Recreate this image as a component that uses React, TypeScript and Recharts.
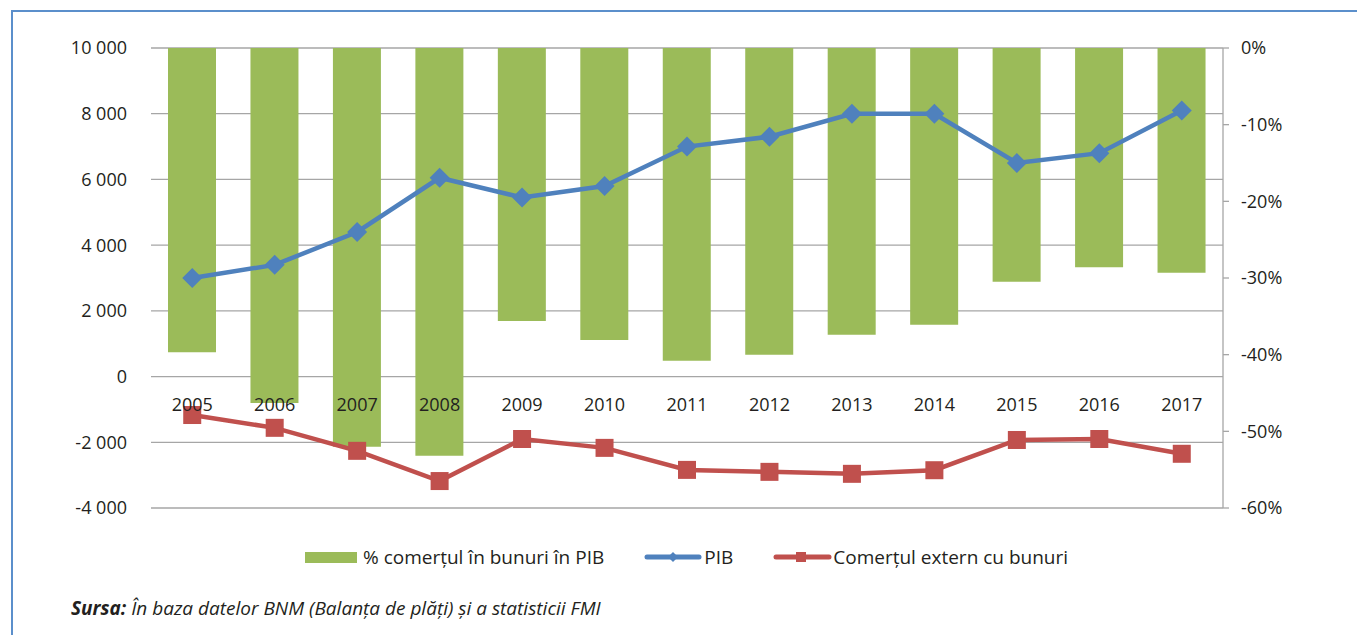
import {
  ComposedChart,
  Bar,
  Line,
  XAxis,
  YAxis,
  CartesianGrid,
} from "recharts";

const years = [
  "2005", "2006", "2007", "2008", "2009", "2010", "2011",
  "2012", "2013", "2014", "2015", "2016", "2017",
];
// % comertul in bunuri in PIB (right axis)
const tradeShare = [
  -39.7, -46.3, -52.0, -53.2, -35.6, -38.1, -40.8,
  -40.0, -37.4, -36.1, -30.5, -28.6, -29.3,
];
// PIB (left axis)
const pib = [
  3000, 3400, 4400, 6050, 5450, 5800, 7000, 7300, 8000, 8000, 6500, 6800, 8100,
];
// Comertul extern cu bunuri (left axis)
const tradeBalance = [
  -1170, -1560, -2260, -3180, -1900, -2170, -2840,
  -2900, -2960, -2850, -1930, -1900, -2350,
];
const leftTicks = [10000, 8000, 6000, 4000, 2000, 0, -2000, -4000];
const rightTicks = [0, -10, -20, -30, -40, -50, -60];

const GREEN = "#9BBB59";
const BLUE = "#4F81BD";
const RED = "#C0504D";
const TEXT = "#231F20";
const FONT = "'Open Sans', sans-serif";

const data = years.map((year, i) => ({
  year,
  share: tradeShare[i],
  pib: pib[i],
  trade: tradeBalance[i],
}));

const fmtThousands = (v: number) => {
  const s = Math.abs(v).toString().replace(/\B(?=(\d{3})+(?!\d))/g, " ");
  return (v < 0 ? "-" : "") + s;
};

// year labels sit just under the zero line, not at the plot bottom
const YearTick = ({ x, y, payload }: any) => (
  <text
    x={x}
    y={y}
    dy={-105}
    textAnchor="middle"
    fill={TEXT}
    fontSize={18}
    fontFamily={FONT}
  >
    {payload.value}
  </text>
);

const Diamond = ({ cx, cy, index }: any) => (
  <path
    key={`d-${index}`}
    d={`M${cx} ${cy - 10}L${cx + 10} ${cy}L${cx} ${cy + 10}L${cx - 10} ${cy}Z`}
    fill={BLUE}
  />
);

const Square = ({ cx, cy, index }: any) => (
  <rect
    key={`s-${index}`}
    x={cx - 9}
    y={cy - 9}
    width={18}
    height={18}
    fill={RED}
  />
);

const LegendBox = () => (
  <div
    style={{
      position: "absolute",
      left: 305,
      top: 544,
      display: "flex",
      alignItems: "center",
      fontFamily: FONT,
      fontSize: 19,
      color: TEXT,
      whiteSpace: "nowrap",
    }}
  >
    <svg width={58} height={14}>
      <rect x={0} y={2} width={52} height={11} fill={GREEN} />
    </svg>
    <span style={{ marginRight: 40 }}>% comerțul în bunuri în PIB</span>
    <svg width={60} height={14}>
      <line x1={3} y1={7} x2={55} y2={7} stroke={BLUE} strokeWidth={5} strokeLinecap="round" />
      <path d="M29 2L34 7L29 12L24 7Z" fill={BLUE} />
    </svg>
    <span style={{ marginRight: 40 }}>PIB</span>
    <svg width={60} height={14}>
      <line x1={3} y1={7} x2={56} y2={7} stroke={RED} strokeWidth={5} strokeLinecap="round" />
      <rect x={23} y={2} width={10} height={10} fill={RED} />
    </svg>
    <span>Comerțul extern cu bunuri</span>
  </div>
);

export default function App() {
  return (
    <div
      style={{
        position: "absolute",
        left: 0,
        top: 0,
        width: 1357,
        height: 635,
        background: "#fff",
        overflow: "hidden",
      }}
    >
      <div
        style={{
          position: "absolute",
          left: 11,
          top: 10,
          width: 1357,
          height: 640,
          borderLeft: "2px solid #5B8FCB",
          borderTop: "2px solid #5B8FCB",
        }}
      />
      <div style={{ position: "absolute", left: 0, top: 0 }}>
        <ComposedChart
          width={1357}
          height={540}
          data={data}
          margin={{ top: 48, right: 0, left: 0, bottom: 2 }}
        >
          <CartesianGrid
            vertical={false}
            stroke="#A6A6A6"
            strokeWidth={1.3}
            yAxisId="left"
          />
          <XAxis
            dataKey="year"
            axisLine={false}
            tickLine={false}
            height={30}
            tick={<YearTick />}
            interval={0}
          />
          <YAxis
            yAxisId="left"
            width={151}
            domain={[-4000, 10000]}
            ticks={leftTicks}
            axisLine={false}
            tickLine={false}
            tickMargin={18}
            tickFormatter={fmtThousands}
            tick={{ fill: TEXT, fontSize: 18, fontFamily: FONT }}
          />
          <YAxis
            yAxisId="right"
            orientation="right"
            width={134}
            domain={[-60, 0]}
            ticks={rightTicks}
            axisLine={{ stroke: "#A6A6A6", strokeWidth: 1.3 }}
            tickLine={{ stroke: "#A6A6A6", strokeWidth: 1.3 }}
            tickSize={6}
            tickMargin={12}
            tickFormatter={(v: number) => `${v}%`}
            tick={{ fill: TEXT, fontSize: 18, fontFamily: FONT }}
          />
          <Bar
            yAxisId="right"
            dataKey="share"
            fill={GREEN}
            barSize={48}
            isAnimationActive={false}
          />
          <Line
            yAxisId="left"
            dataKey="pib"
            stroke={BLUE}
            strokeWidth={4.5}
            dot={Diamond}
            activeDot={false}
            isAnimationActive={false}
          />
          <Line
            yAxisId="left"
            dataKey="trade"
            stroke={RED}
            strokeWidth={4.5}
            dot={Square}
            activeDot={false}
            isAnimationActive={false}
          />
        </ComposedChart>
      </div>
      <LegendBox />
      <div
        style={{
          position: "absolute",
          left: 71,
          top: 595,
          fontFamily: FONT,
          fontSize: 19,
          fontStyle: "italic",
          color: TEXT,
          whiteSpace: "nowrap",
        }}
      >
        <b>Sursa:</b> În baza datelor BNM (Balanța de plăți) și a statisticii FMI
      </div>
    </div>
  );
}
